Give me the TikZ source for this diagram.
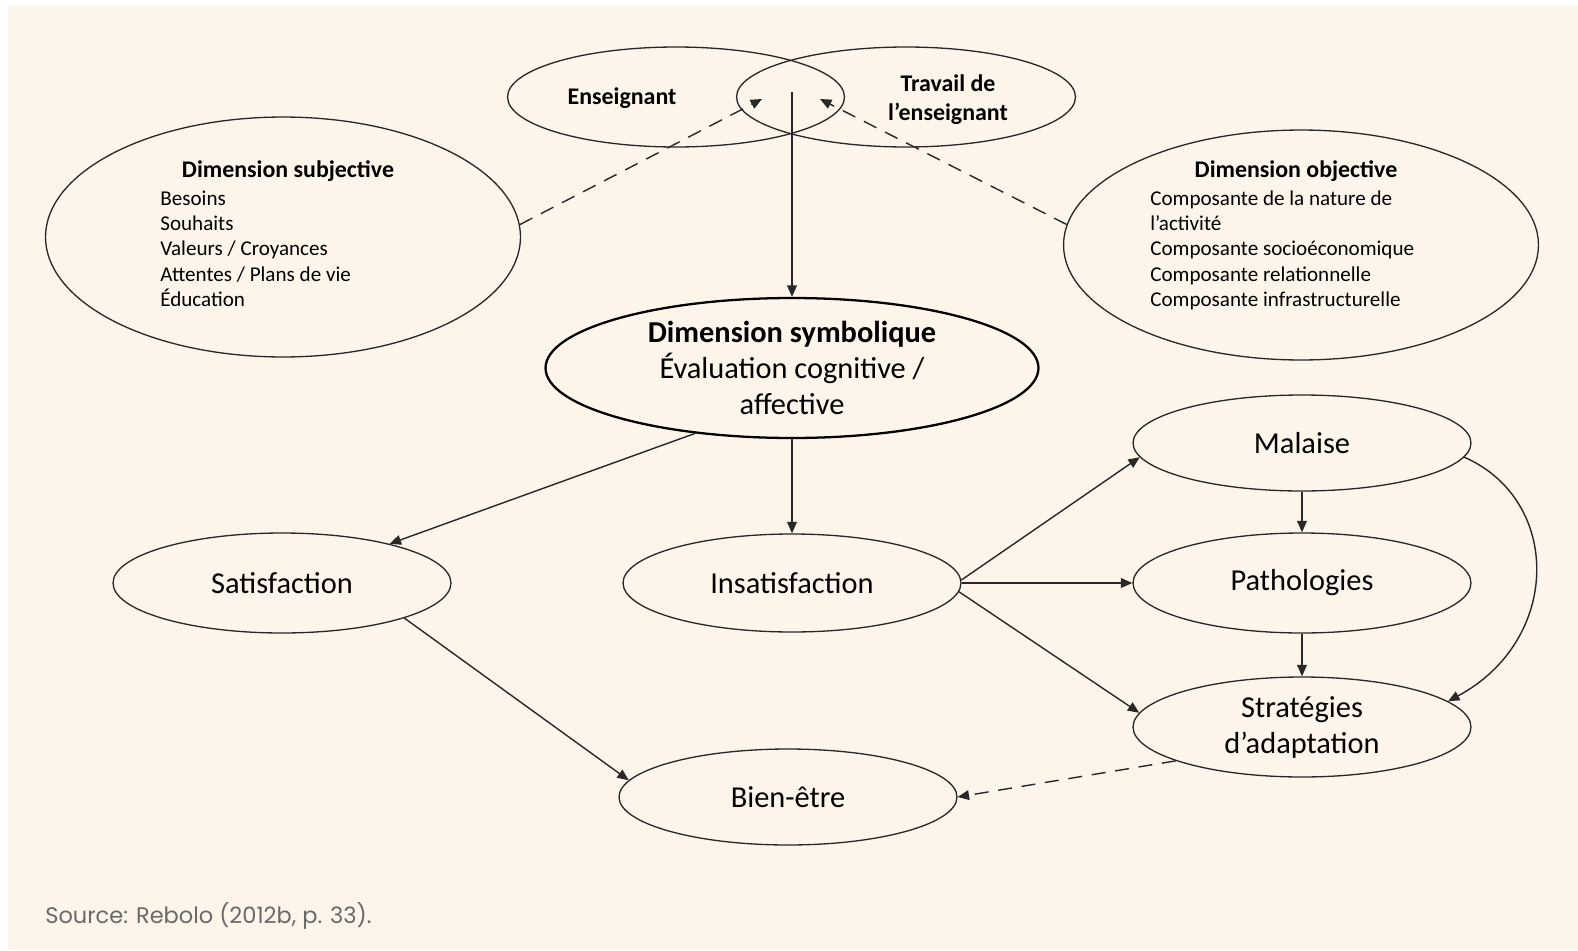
\documentclass[tikz,border=0pt]{standalone}
\usepackage{fontspec}
\setmainfont{Carlito}
\newfontfamily\srcfont{Poppins}
\usetikzlibrary{shapes.geometric,arrows.meta}
\definecolor{cream}{RGB}{253,245,233}
\definecolor{srcgray}{RGB}{105,105,105}
\definecolor{linegray}{RGB}{40,40,40}

\begin{document}
\begin{tikzpicture}[x=0.02cm,y=-0.02cm,
    oval/.style={ellipse,draw=linegray,line width=0.75pt,inner sep=0pt,
      minimum width=6.76cm,minimum height=2cm},
    bigtxt/.style={font=\fontsize{17.3}{20.5}\selectfont,align=center},
    smalltxt/.style={font=\fontsize{12}{14.5}\selectfont,anchor=base west,inner sep=0pt},
    boldtxt/.style={font=\bfseries\fontsize{13.6}{16.5}\selectfont,align=center},
    arr/.style={draw=linegray,line width=0.8pt,-{Triangle[length=6.5pt,width=5.5pt]}},
    dasharr/.style={arr,dash pattern=on 8pt off 5.5pt}]

      % background
      \useasboundingbox (0,0) rectangle (1578,950);
      \fill[white] (0,0) rectangle (1578,950);
      \fill[cream] (8,6) rectangle (1578,950);

      % top: the teacher and the teacher's work
      \node[oval,minimum width=6.74cm] (ens) at(676, 97){};
      \node[oval,minimum width=6.78cm] (trav) at(906, 97){};
        \node[boldtxt] (enstxt) at(622, 98){Enseignant};
        \node[boldtxt] (travtxt) at(948, 100){Travail de\\l’enseignant};
      \coordinate (lensL) at(762, 99);
      \coordinate (lensR) at(820, 99);
      \coordinate (lensC) at(792, 92);

      % subjective dimension
      \node[oval,minimum width=9.5cm,minimum height=4.8cm] (subj) at(283, 237){};
        \node[boldtxt] (subjtitle) at(288, 171){Dimension subjective};
        \node[smalltxt] (subj1) at(160, 205){Besoins};
        \node[smalltxt] (subj2) at(160, 230){Souhaits};
        \node[smalltxt] (subj3) at(160, 255){Valeurs / Croyances};
        \node[smalltxt] (subj4) at(160, 281){Attentes / Plans de vie};
        \node[smalltxt] (subj5) at(160, 306){Éducation};

      % objective dimension
      \node[oval,minimum width=9.5cm,minimum height=4.6cm] (obj) at(1301, 245){};
        \node[boldtxt] (objtitle) at(1296, 171){Dimension objective};
        \node[smalltxt] (obj1) at(1150, 205){Composante de la nature de};
        \node[smalltxt] (obj2) at(1150, 230){l’activité};
        \node[smalltxt] (obj3) at(1150, 255){Composante socioéconomique};
        \node[smalltxt] (obj4) at(1150, 281){Composante relationnelle};
        \node[smalltxt] (obj5) at(1150, 306){Composante infrastructurelle};

      % symbolic dimension
      \node[oval,draw=black,line width=1.3pt,minimum width=9.86cm,minimum height=2.8cm,bigtxt]
        (sym) at(792, 368){\textbf{Dimension symbolique}\\Évaluation cognitive /\\affective};

      % outcomes
      \node[oval,bigtxt] (satis) at(282, 583){Satisfaction};
      \node[oval,minimum height=1.96cm,bigtxt] (insat) at(792, 583){Insatisfaction};
      \node[oval,minimum height=1.92cm,bigtxt] (bien) at(788, 797){Bien-être};
      \node[oval,minimum height=1.92cm,bigtxt] (mal) at(1302, 443){Malaise};
      \node[oval,bigtxt] (path) at(1302, 583){Pathologies};
      \node[oval,bigtxt] (strat) at(1302, 727){Stratégies\\d’adaptation};

      % connectors
      \draw[dasharr] (subj.3) to (lensL);
      \draw[dasharr] (obj.175) to (lensR);
      \draw[arr] (lensC) to (lensC |- sym.north);
      \draw[arr] (sym.south) to (insat.north);
      \draw[arr] (sym.214) to (satis.20);
      \draw[arr] (satis.-16) to (bien.174);
      \draw[arr] (insat.1.5) to (mal.185);
      \draw[arr] (insat.east) to (path.west);
      \draw[arr] (insat.-3) to (strat.175);
      \draw[arr] (mal.south) to (path.north);
      \draw[arr] (path.south) to (strat.north);
      \draw[arr] (mal.-5) .. controls (1562, 500) and (1562, 640) .. (strat.10);
      \draw[dasharr] (strat.195) to (bien.east);

      \node[font=\srcfont\fontsize{12.8}{15}\selectfont,text=srcgray,anchor=base west,inner sep=0pt]
        (source) at(45, 923){Source: Rebolo (2012b, p. 33).};

    \end{tikzpicture}
\end{document}
